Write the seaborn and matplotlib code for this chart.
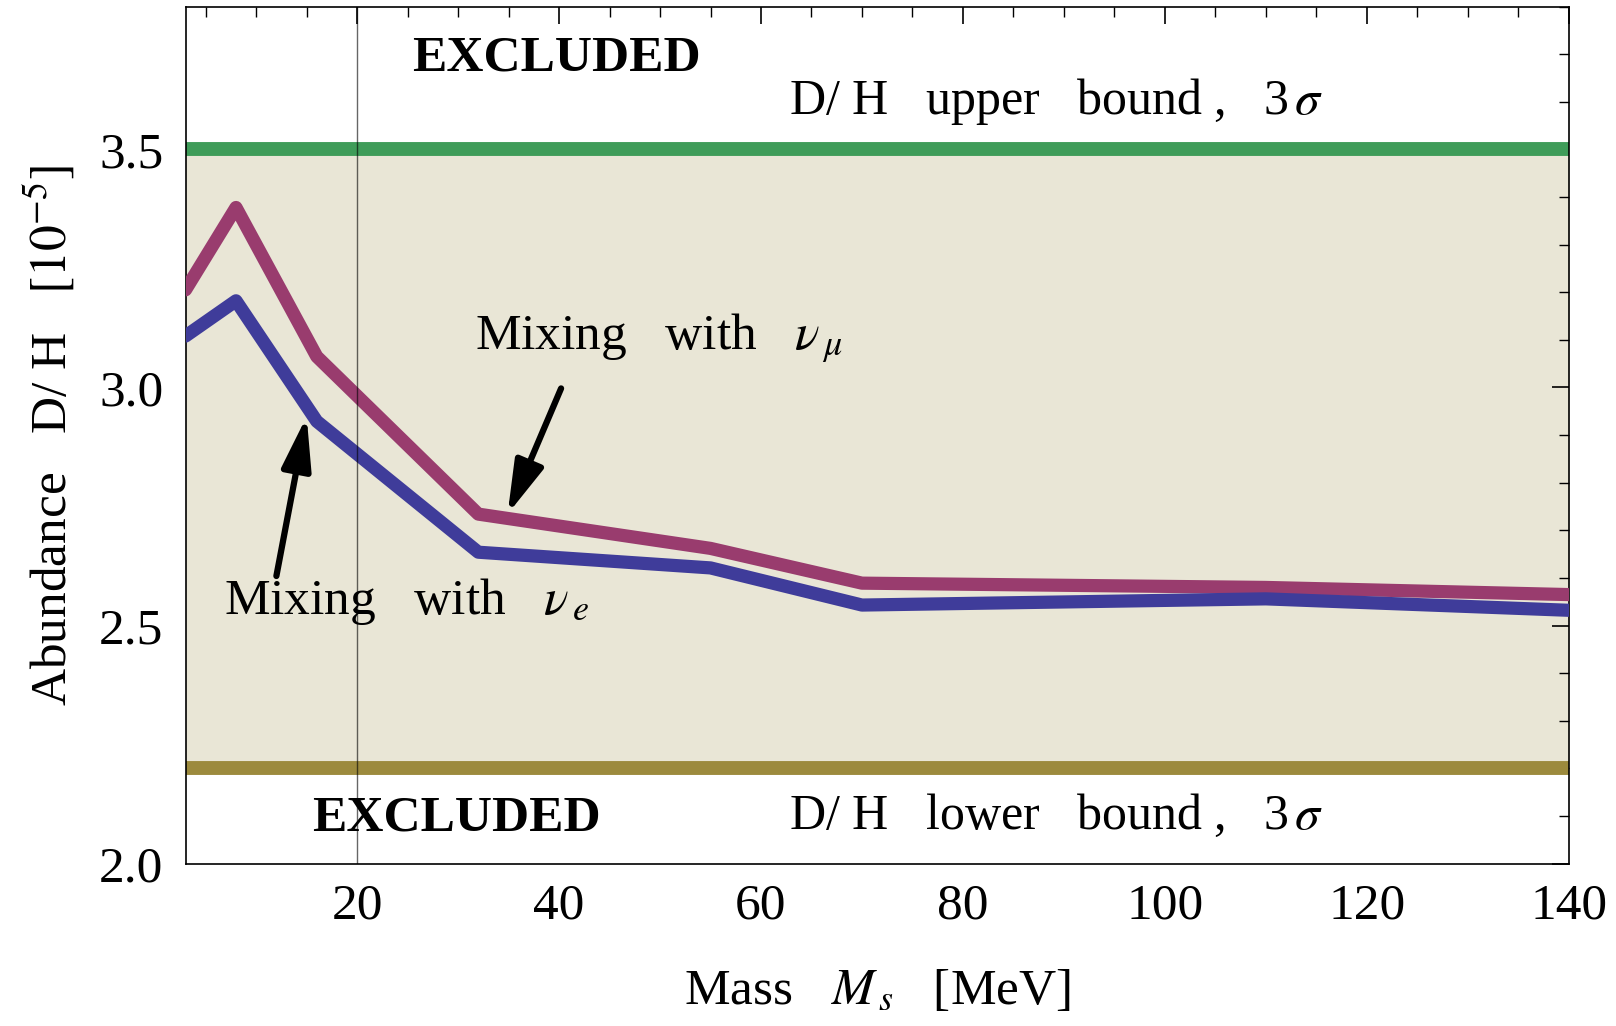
import numpy as np
import pandas as pd
import matplotlib
matplotlib.use("Agg")
import matplotlib.pyplot as plt
import seaborn as sns

# Sterile-neutrino mass grid (MeV) and resulting D/H abundance (units of 1e-5)
mass = [3, 8, 16, 32, 55, 70, 110, 140]
dh_mu = [3.205, 3.378, 3.065, 2.734, 2.662, 2.589, 2.580, 2.565]
dh_e = [3.108, 3.182, 2.929, 2.654, 2.621, 2.543, 2.556, 2.532]
series_names = [r"$\nu_\mu$", r"$\nu_e$"]

# Observational 3-sigma bounds on D/H
dh_upper = 3.5
dh_lower = 2.2

x_ticks = [20, 40, 60, 80, 100, 120, 140]
y_ticks = [2.0, 2.5, 3.0, 3.5]

sns.set_theme(style="white")
plt.rcParams["font.family"] = ["Liberation Serif", "DejaVu Serif"]
plt.rcParams["mathtext.fontset"] = "stix"
for key in ("text.color", "axes.labelcolor", "xtick.color", "ytick.color"):
    plt.rcParams[key] = "black"

df = pd.DataFrame({
    "mass": mass * 2,
    "dh": dh_mu + dh_e,
    "mixing": [series_names[0]] * len(mass) + [series_names[1]] * len(mass),
})

fig = plt.figure(figsize=(16.16, 10.26), dpi=100)
ax = fig.add_axes([0.1148, 0.1583, 0.8559, 0.8353])

# allowed region and its bounds
ax.axhspan(dh_lower, dh_upper, color="#E9E6D6", zorder=0, lw=0)
ax.axhline(dh_upper, color="#3F9C59", lw=10, zorder=2)
ax.axhline(dh_lower, color="#9C8A3D", lw=10, zorder=2)

sns.lineplot(data=df, x="mass", y="dh", hue="mixing",
             palette=["#993C6E", "#3F3C9A"], linewidth=9.5,
             legend=False, ax=ax, zorder=3)

ax.axvline(20, color="black", alpha=0.6, lw=1.0, zorder=4)

ax.set_xlim(3, 140)
ax.set_ylim(2.0, 3.8)
ax.set_xticks(x_ticks)
ax.set_xticks(np.arange(5, 141, 5), minor=True)
ax.set_yticks(y_ticks)
ax.set_yticks(np.arange(2.0, 3.81, 0.1), minor=True)
ax.set_yticklabels([f"{v:.1f}" for v in y_ticks])
ax.tick_params(axis="both", which="both", direction="in",
               top=True, right=True, labelsize=37, colors="black")
ax.tick_params(axis="x", pad=14)
ax.tick_params(axis="y", pad=16)
ax.tick_params(which="major", length=12, width=1.2)
ax.tick_params(which="minor", length=7, width=1.0)
for s in ax.spines.values():
    s.set_color("black")
    s.set_linewidth(1.2)

ax.set_xlabel(r"Mass   $M_{\,s}$   [MeV]", fontsize=37, labelpad=28)
ax.set_ylabel(r"Abundance   D/ H   $[10^{-5}]$", fontsize=37, labelpad=16)

ax.text(39.7, 3.69, "EXCLUDED", fontsize=37, fontweight="bold",
        ha="center", va="center")
ax.text(29.8, 2.095, "EXCLUDED", fontsize=37, fontweight="bold",
        ha="center", va="center")
ax.text(89.2, 3.6, r"D/ H   upper   bound ,   3$\,\sigma$", fontsize=36,
        ha="center", va="center")
ax.text(89.2, 2.1, r"D/ H   lower   bound ,   3$\,\sigma$", fontsize=36,
        ha="center", va="center")

ax.text(49.9, 3.102, r"Mixing   with   $\nu_{\,\mu}$", fontsize=37,
        ha="center", va="center")
ax.text(24.9, 2.55, r"Mixing   with   $\nu_{\,e}$", fontsize=37,
        ha="center", va="center")

arrow_style = dict(arrowstyle="-|>,head_length=3.2,head_width=0.9",
                   color="black", lw=4.5, shrinkA=0, shrinkB=0,
                   mutation_scale=10)
ax.annotate("", xy=(34.9, 2.734), xytext=(40.2, 2.998), arrowprops=arrow_style,
            zorder=5)
ax.annotate("", xy=(15.0, 2.939), xytext=(12.0, 2.604), arrowprops=arrow_style,
            zorder=5)

fig.savefig("out.png", dpi=100)
